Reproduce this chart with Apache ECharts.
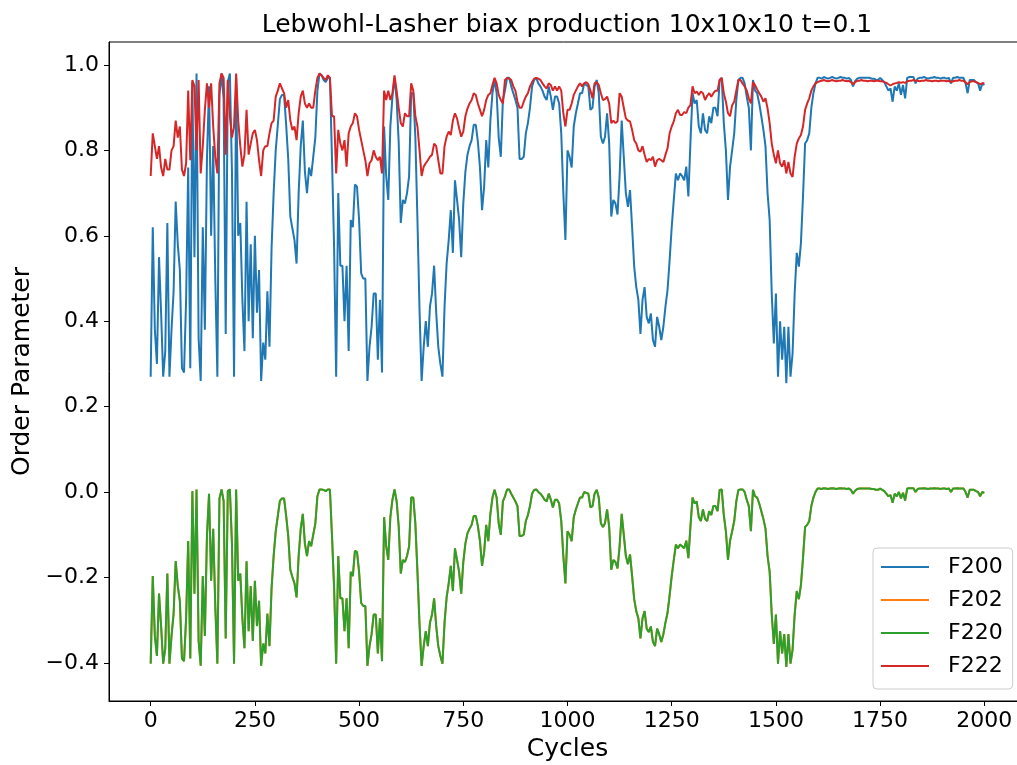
<!DOCTYPE html>
<html>
<head>
<meta charset="utf-8">
<title>Lebwohl-Lasher biax production</title>
<script src="https://cdn.jsdelivr.net/npm/echarts@6.0.0/dist/echarts.min.js"></script>
<style>
  html, body { margin: 0; padding: 0; background: #fff; }
  #chart { width: 1017px; height: 765px; }
</style>
</head>
<body>
<div id="chart"></div>
<script>
// one value every 5 cycles, 0..2000
const CYCLE_STEP = 5;

const f200 = [
  0.27,0.62,0.38,0.30,0.55,0.42,0.27,0.33,0.63,0.27,0.38,0.47,0.68,0.58,0.52,0.29,0.28,0.45,0.76,0.29,
  0.96,0.55,0.98,0.36,0.26,0.62,0.38,0.78,0.95,0.60,0.81,0.50,0.27,0.93,0.98,0.92,0.37,0.96,0.98,0.75,
  0.27,0.97,0.60,0.63,0.45,0.33,0.68,0.40,0.58,0.36,0.60,0.42,0.52,0.26,0.35,0.31,0.47,0.34,0.57,0.70,
  0.80,0.86,0.92,0.93,0.93,0.86,0.78,0.645,0.617,0.59,0.535,0.70,0.81,0.87,0.75,0.70,0.76,0.74,0.785,0.83,
  0.94,0.98,0.976,0.965,0.96,0.97,0.97,0.78,0.575,0.27,0.70,0.53,0.53,0.40,0.53,0.33,0.637,0.62,0.72,0.715,
  0.637,0.512,0.50,0.50,0.26,0.34,0.387,0.465,0.465,0.31,0.45,0.28,0.856,0.74,0.684,0.856,0.926,0.97,0.92,0.82,
  0.63,0.684,0.676,0.70,0.74,0.934,0.934,0.83,0.637,0.426,0.26,0.34,0.40,0.34,0.434,0.465,0.53,0.42,0.34,0.30,
  0.27,0.434,0.535,0.59,0.66,0.56,0.73,0.684,0.637,0.55,0.676,0.75,0.79,0.81,0.824,0.86,0.86,0.82,0.76,0.66,
  0.715,0.824,0.76,0.87,0.934,0.965,0.934,0.83,0.785,0.918,0.94,0.97,0.97,0.95,0.934,0.918,0.90,0.78,0.78,0.785,
  0.84,0.864,0.90,0.95,0.965,0.97,0.957,0.95,0.94,0.926,0.918,0.95,0.926,0.895,0.926,0.926,0.91,0.84,0.70,0.59,
  0.80,0.785,0.76,0.856,0.887,0.91,0.934,0.934,0.957,0.953,0.95,0.895,0.90,0.95,0.965,0.934,0.832,0.816,0.832,0.887,
  0.816,0.645,0.684,0.676,0.65,0.74,0.87,0.785,0.70,0.668,0.707,0.62,0.528,0.48,0.45,0.37,0.45,0.48,0.41,0.395,
  0.418,0.356,0.34,0.41,0.387,0.356,0.387,0.434,0.473,0.543,0.62,0.684,0.746,0.73,0.746,0.74,0.73,0.762,0.692,0.82,
  0.934,0.91,0.918,0.856,0.84,0.887,0.848,0.84,0.88,0.864,0.90,0.90,0.88,0.965,0.97,0.864,0.80,0.684,0.762,0.80,
  0.84,0.918,0.965,0.97,0.97,0.957,0.926,0.90,0.80,0.965,0.94,0.934,0.91,0.88,0.848,0.81,0.70,0.637,0.465,0.348,
  0.465,0.27,0.40,0.31,0.387,0.255,0.387,0.27,0.325,0.465,0.56,0.528,0.583,0.692,0.816,0.824,0.84,0.90,0.934,0.957,
  0.97,0.97,0.968,0.972,0.97,0.968,0.97,0.972,0.97,0.968,0.97,0.972,0.97,0.97,0.968,0.97,0.965,0.95,0.962,0.968,
  0.97,0.97,0.97,0.97,0.97,0.97,0.968,0.968,0.965,0.965,0.97,0.965,0.96,0.95,0.94,0.945,0.914,0.95,0.94,0.957,
  0.93,0.953,0.922,0.97,0.972,0.972,0.972,0.957,0.968,0.97,0.97,0.972,0.97,0.968,0.97,0.97,0.972,0.97,0.97,0.968,
  0.97,0.97,0.968,0.97,0.957,0.97,0.97,0.972,0.97,0.97,0.97,0.957,0.934,0.965,0.965,0.965,0.96,0.957,0.94,0.957,
  0.953
];

const f220 = [
  -0.402,-0.197,-0.337,-0.384,-0.238,-0.314,-0.402,-0.366,-0.191,-0.402,-0.337,-0.285,-0.162,-0.220,-0.255,-0.390,-0.396,-0.296,-0.115,-0.390,
  0.002,-0.238,0.006,-0.349,-0.407,-0.197,-0.337,-0.103,-0.004,-0.208,-0.086,-0.267,-0.402,-0.015,0.006,-0.021,-0.343,0.002,0.006,-0.121,
  -0.402,0.006,-0.208,-0.191,-0.296,-0.366,-0.162,-0.326,-0.220,-0.349,-0.208,-0.314,-0.255,-0.407,-0.355,-0.378,-0.285,-0.361,-0.226,-0.150,
  -0.092,-0.056,-0.021,-0.015,-0.015,-0.056,-0.103,-0.182,-0.199,-0.214,-0.247,-0.150,-0.086,-0.051,-0.121,-0.150,-0.115,-0.127,-0.100,-0.074,
  -0.010,0.006,0.006,0.005,0.002,0.006,0.006,-0.103,-0.223,-0.402,-0.150,-0.249,-0.249,-0.326,-0.249,-0.366,-0.187,-0.197,-0.138,-0.141,
  -0.187,-0.260,-0.267,-0.267,-0.407,-0.361,-0.333,-0.287,-0.287,-0.378,-0.296,-0.396,-0.059,-0.127,-0.159,-0.059,-0.018,0.006,-0.021,-0.080,
  -0.191,-0.159,-0.164,-0.150,-0.127,-0.013,-0.013,-0.074,-0.187,-0.310,-0.407,-0.361,-0.326,-0.361,-0.306,-0.287,-0.249,-0.314,-0.361,-0.384,
  -0.402,-0.306,-0.247,-0.214,-0.173,-0.232,-0.132,-0.159,-0.187,-0.238,-0.164,-0.121,-0.097,-0.086,-0.077,-0.056,-0.056,-0.080,-0.115,-0.173,
  -0.141,-0.077,-0.115,-0.051,-0.013,0.005,-0.013,-0.074,-0.100,-0.022,-0.010,0.006,0.006,-0.004,-0.013,-0.022,-0.033,-0.103,-0.103,-0.100,
  -0.068,-0.054,-0.033,-0.004,0.005,0.006,0.000,-0.004,-0.010,-0.018,-0.022,-0.004,-0.018,-0.036,-0.018,-0.018,-0.027,-0.068,-0.150,-0.214,
  -0.092,-0.100,-0.115,-0.059,-0.041,-0.027,-0.013,-0.013,0.000,-0.002,-0.004,-0.036,-0.033,-0.004,0.005,-0.013,-0.073,-0.082,-0.073,-0.041,
  -0.082,-0.182,-0.159,-0.164,-0.179,-0.127,-0.051,-0.100,-0.150,-0.169,-0.146,-0.197,-0.251,-0.279,-0.296,-0.343,-0.296,-0.279,-0.320,-0.328,
  -0.315,-0.351,-0.361,-0.320,-0.333,-0.351,-0.333,-0.306,-0.283,-0.242,-0.197,-0.159,-0.123,-0.132,-0.123,-0.127,-0.132,-0.114,-0.155,-0.080,
  -0.013,-0.027,-0.022,-0.059,-0.068,-0.041,-0.063,-0.068,-0.045,-0.054,-0.033,-0.033,-0.045,0.005,0.006,-0.054,-0.092,-0.159,-0.114,-0.092,
  -0.068,-0.022,0.005,0.006,0.006,0.000,-0.018,-0.033,-0.092,0.005,-0.010,-0.013,-0.027,-0.045,-0.063,-0.086,-0.150,-0.187,-0.287,-0.356,
  -0.287,-0.402,-0.326,-0.378,-0.333,-0.410,-0.333,-0.402,-0.369,-0.287,-0.232,-0.251,-0.218,-0.155,-0.082,-0.077,-0.068,-0.033,-0.013,0.000,
  0.008,0.008,0.007,0.009,0.008,0.007,0.008,0.009,0.008,0.007,0.008,0.009,0.008,0.008,0.007,0.008,0.005,-0.004,0.003,0.007,
  0.008,0.008,0.008,0.008,0.008,0.008,0.007,0.007,0.005,0.005,0.008,0.005,0.002,-0.004,-0.010,-0.007,-0.025,-0.004,-0.010,0.000,
  -0.015,-0.002,-0.020,0.008,0.009,0.009,0.009,0.000,0.007,0.008,0.008,0.009,0.008,0.007,0.008,0.008,0.009,0.008,0.008,0.007,
  0.008,0.008,0.007,0.008,0.000,0.008,0.008,0.009,0.008,0.008,0.008,0.000,-0.013,0.005,0.005,0.005,0.002,0.000,-0.010,0.000,
  -0.002
];

// F202 is drawn exactly under F220 in the picture (orange never shows)
const f202 = f220.slice();

const f222 = [
  0.74,0.84,0.81,0.78,0.81,0.76,0.74,0.78,0.755,0.755,0.80,0.81,0.87,0.83,0.856,0.755,0.74,0.77,0.94,0.777,
  0.965,0.95,0.80,0.965,0.746,0.81,0.895,0.957,0.90,0.957,0.856,0.785,0.746,0.957,0.98,0.97,0.79,0.965,0.88,0.83,
  0.856,0.98,0.87,0.81,0.762,0.79,0.895,0.79,0.816,0.84,0.848,0.824,0.777,0.74,0.80,0.81,0.81,0.84,0.864,0.87,
  0.926,0.94,0.957,0.945,0.934,0.90,0.918,0.87,0.848,0.856,0.824,0.887,0.926,0.94,0.91,0.90,0.91,0.90,0.90,0.94,
  0.97,0.98,0.976,0.97,0.965,0.976,0.97,0.88,0.88,0.746,0.848,0.816,0.80,0.824,0.762,0.84,0.856,0.864,0.887,0.88,
  0.848,0.824,0.80,0.777,0.74,0.77,0.777,0.80,0.785,0.777,0.785,0.746,0.94,0.918,0.94,0.918,0.934,0.976,0.94,0.90,
  0.864,0.856,0.887,0.88,0.88,0.957,0.94,0.88,0.856,0.80,0.74,0.762,0.77,0.777,0.785,0.79,0.816,0.81,0.777,0.746,
  0.746,0.81,0.832,0.844,0.836,0.87,0.887,0.875,0.852,0.832,0.844,0.88,0.898,0.91,0.918,0.934,0.93,0.91,0.895,0.88,
  0.895,0.918,0.93,0.934,0.953,0.97,0.957,0.93,0.918,0.91,0.965,0.97,0.968,0.965,0.95,0.94,0.914,0.90,0.90,0.914,
  0.926,0.934,0.95,0.96,0.968,0.97,0.968,0.965,0.957,0.95,0.945,0.957,0.953,0.94,0.95,0.94,0.95,0.94,0.887,0.856,
  0.895,0.895,0.91,0.93,0.94,0.95,0.957,0.95,0.957,0.96,0.955,0.94,0.922,0.957,0.96,0.953,0.934,0.918,0.92,0.926,
  0.91,0.864,0.87,0.864,0.868,0.934,0.926,0.90,0.875,0.87,0.868,0.848,0.824,0.816,0.80,0.797,0.81,0.79,0.773,0.78,
  0.777,0.785,0.762,0.777,0.78,0.777,0.773,0.79,0.805,0.84,0.856,0.868,0.887,0.895,0.883,0.883,0.89,0.887,0.90,0.906,
  0.95,0.934,0.938,0.93,0.938,0.934,0.918,0.928,0.934,0.926,0.934,0.94,0.94,0.965,0.97,0.934,0.914,0.887,0.88,0.906,
  0.914,0.94,0.965,0.965,0.957,0.95,0.94,0.922,0.91,0.96,0.953,0.943,0.934,0.926,0.914,0.922,0.898,0.864,0.816,0.79,
  0.77,0.80,0.77,0.762,0.777,0.746,0.773,0.746,0.738,0.785,0.816,0.828,0.836,0.856,0.895,0.91,0.922,0.94,0.95,0.957,
  0.96,0.962,0.963,0.965,0.963,0.962,0.963,0.965,0.963,0.962,0.963,0.963,0.965,0.963,0.962,0.963,0.96,0.955,0.96,0.963,
  0.963,0.965,0.963,0.963,0.962,0.963,0.963,0.962,0.963,0.963,0.962,0.962,0.96,0.958,0.955,0.952,0.955,0.957,0.958,0.96,
  0.958,0.96,0.958,0.962,0.963,0.963,0.965,0.963,0.963,0.962,0.963,0.963,0.965,0.963,0.963,0.962,0.963,0.963,0.962,0.963,
  0.963,0.963,0.962,0.963,0.96,0.962,0.963,0.963,0.965,0.963,0.963,0.96,0.955,0.96,0.962,0.962,0.96,0.958,0.955,0.957,
  0.957
];

const seriesNames = ['F200', 'F202', 'F220', 'F222'];
const seriesColors = ['#1f77b4', '#ff7f0e', '#2ca02c', '#d62728'];
const xTicks = [0, 250, 500, 750, 1000, 1250, 1500, 1750, 2000];
const yTicks = [-0.4, -0.2, 0.0, 0.2, 0.4, 0.6, 0.8, 1.0];

const FONT = 'DejaVu Sans';

function toPoints(values) {
  return values.map((v, i) => [i * CYCLE_STEP, v]);
}

const chart = echarts.init(document.getElementById('chart'), null, { renderer: 'canvas' });

chart.setOption({
  animation: false,
  backgroundColor: '#fff',
  color: seriesColors,
  textStyle: { fontFamily: FONT },
  graphic: [{
    type: 'text',
    x: 567,
    y: 13,
    style: {
      text: 'Lebwohl-Lasher biax production 10x10x10 t=0.1',
      font: '25px "DejaVu Sans"',
      fill: '#000',
      align: 'center',
      verticalAlign: 'top'
    }
  }],
  grid: {
    left: 109,
    top: 42,
    width: 917,
    height: 659,
    outerBoundsMode: 'none',
    containLabel: false,
    show: true,
    borderColor: '#000',
    borderWidth: 1,
    backgroundColor: 'transparent'
  },
  legend: {
    data: seriesNames,
    orient: 'vertical',
    left: 873,
    top: 548,
    icon: 'rect',
    itemWidth: 48,
    itemHeight: 2,
    itemGap: 11,
    padding: [8, 10, 12, 8],
    backgroundColor: 'rgba(255,255,255,0.8)',
    borderColor: '#cccccc',
    borderWidth: 1,
    borderRadius: 4,
    textStyle: {
      fontFamily: FONT,
      fontSize: 22,
      color: '#000',
      lineHeight: 22,
      padding: [0, 0, 0, 14]
    }
  },
  xAxis: {
    type: 'value',
    min: -100,
    max: 2100,
    name: 'Cycles',
    nameLocation: 'middle',
    nameGap: 31,
    nameTextStyle: { fontFamily: FONT, fontSize: 25, color: '#000' },
    splitLine: { show: false },
    axisLine: { show: true, onZero: false, lineStyle: { color: '#000', width: 1 } },
    axisTick: { show: true, inside: false, length: 5, customValues: xTicks, lineStyle: { color: '#000' } },
    axisLabel: {
      customValues: xTicks,
      margin: 9,
      fontFamily: FONT,
      fontSize: 22,
      color: '#000',
      formatter: v => String(v)
    }
  },
  yAxis: {
    type: 'value',
    min: -0.4895,
    max: 1.0539,
    name: 'Order Parameter',
    nameLocation: 'middle',
    nameGap: 63,
    nameTextStyle: { fontFamily: FONT, fontSize: 25, color: '#000' },
    splitLine: { show: false },
    axisLine: { show: true, onZero: false, lineStyle: { color: '#000', width: 1 } },
    axisTick: { show: true, inside: false, length: 5, customValues: yTicks, lineStyle: { color: '#000' } },
    axisLabel: {
      customValues: yTicks,
      margin: 10,
      fontFamily: FONT,
      fontSize: 22,
      color: '#000',
      formatter: v => v.toFixed(1).replace('-', '\u2212')
    }
  },
  series: [
    { name: 'F200', type: 'line', data: toPoints(f200) },
    { name: 'F202', type: 'line', data: toPoints(f202) },
    { name: 'F220', type: 'line', data: toPoints(f220) },
    { name: 'F222', type: 'line', data: toPoints(f222) }
  ].map((s, i) => Object.assign(s, {
    symbol: 'none',
    showSymbol: false,
    lineStyle: { width: 2, color: seriesColors[i] },
    itemStyle: { color: seriesColors[i] },
    emphasis: { disabled: true }
  }))
});
</script>
</body>
</html>
